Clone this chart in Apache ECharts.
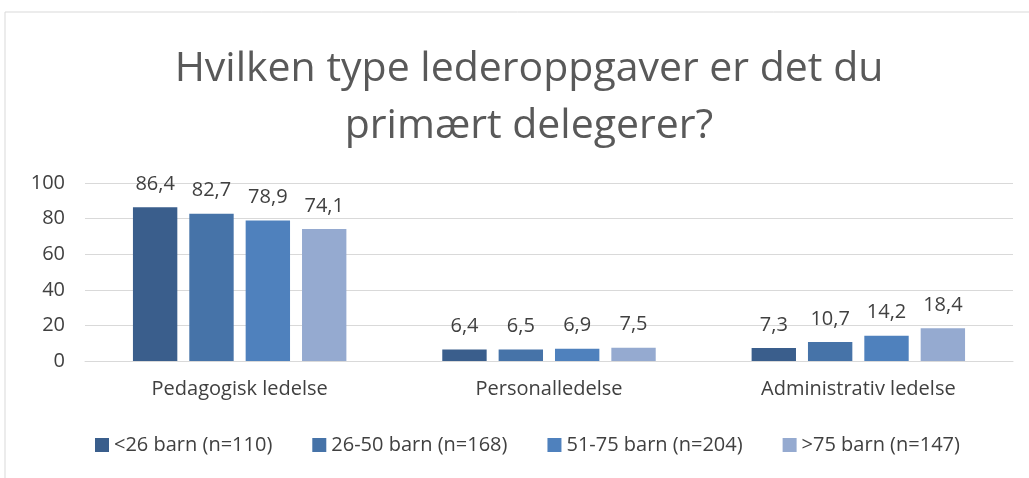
<!DOCTYPE html>
<html>
<head>
<meta charset="utf-8">
<script src="https://cdn.jsdelivr.net/npm/echarts@6/dist/echarts.min.js"></script>
<style>
html, body { margin: 0; padding: 0; background: #fff; }
#chart { width: 1029px; height: 478px; }
</style>
</head>
<body>
<div id="chart"></div>
<script>
var categories = ['Pedagogisk ledelse', 'Personalledelse', 'Administrativ ledelse'];
var seriesNames = ['<26 barn (n=110)', '26-50 barn (n=168)', '51-75 barn (n=204)', '>75 barn (n=147)'];
var under26 = [86.4, 6.4, 7.3];
var from26to50 = [82.7, 6.5, 10.7];
var from51to75 = [78.9, 6.9, 14.2];
var over75 = [74.1, 7.5, 18.4];
var yTicks = [0, 20, 40, 60, 80, 100];

var colors = ['#3a5e8c', '#4673a8', '#4f81bd', '#95aad0'];
var txt = '#404040';
var font = 'Open Sans';

var allData = [under26, from26to50, from51to75, over75];
var series = [];
for (var i = 0; i < allData.length; i++) {
    series.push({
        name: seriesNames[i],
        type: 'bar',
        data: allData[i],
        barGap: '27%',
        barCategoryGap: '31%',
        itemStyle: { color: colors[i] },
        label: {
            show: true,
            position: 'top',
            distance: 13,
            color: txt,
            fontFamily: font,
            fontSize: 20,
            formatter: function (p) {
                return String(p.value).replace('.', ',');
            }
        }
    });
}

var option = {
    animation: false,
    color: colors,
    title: {
        text: 'Hvilken type lederoppgaver er det du\nprimært delegerer?',
        left: 524,
        textAlign: 'center',
        top: 36,
        textStyle: {
            color: '#595959',
            fontFamily: font,
            fontWeight: 'normal',
            fontSize: 41,
            lineHeight: 57
        }
    },
    graphic: [{
        type: 'rect',
        shape: { x: 5, y: 12, width: 1040, height: 480 },
        style: { fill: 'none', stroke: '#d9d9d9', lineWidth: 1 },
        silent: true
    }],
    legend: {
        data: seriesNames,
        bottom: 18,
        left: 90,
        itemWidth: 14,
        itemHeight: 14,
        itemGap: 40,
        icon: 'rect',
        textStyle: { color: txt, fontFamily: font, fontSize: 20 }
    },
    grid: {
        left: 85,
        right: 16,
        top: 183,
        bottom: 117
    },
    xAxis: {
        type: 'category',
        data: categories,
        axisLine: { lineStyle: { color: '#d9d9d9', width: 1 } },
        axisTick: { show: false },
        axisLabel: { color: txt, fontFamily: font, fontSize: 20, margin: 18 }
    },
    yAxis: {
        type: 'value',
        min: yTicks[0],
        max: yTicks[yTicks.length - 1],
        interval: 20,
        axisLine: { show: false },
        axisTick: { show: false },
        splitLine: { lineStyle: { color: '#d9d9d9', width: 1 } },
        axisLabel: { color: txt, fontFamily: font, fontSize: 20, margin: 20 }
    },
    series: series
};

var myChart = echarts.init(document.getElementById('chart'));
myChart.setOption(option);
window.onresize = myChart.resize;
</script>
</body>
</html>
